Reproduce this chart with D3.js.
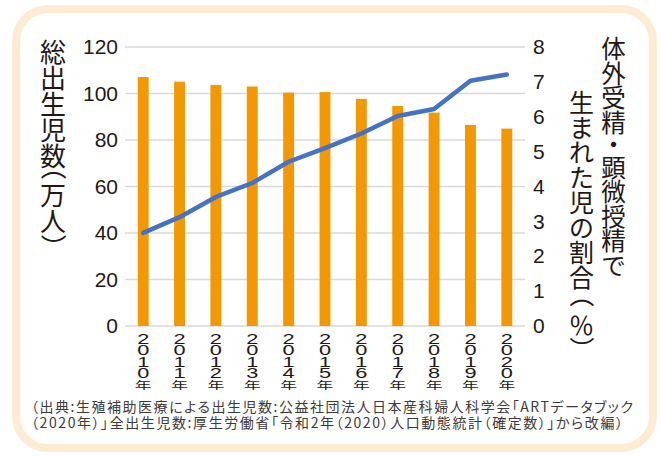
<!DOCTYPE html>
<html>
<head>
<meta charset="utf-8">
<script src="https://cdn.jsdelivr.net/npm/d3@7"></script>
<style>
	body { margin: 0; background: #fff; }
	svg { display: block; }
	text { fill: #231815; }
</style>
</head>
<body>
<div id="chart"></div>
<script>
// values
const years = ["2010", "2011", "2012", "2013", "2014", "2015", "2016", "2017", "2018", "2019", "2020"];
const births = [107.1, 105.1, 103.7, 103.0, 100.4, 100.6, 97.7, 94.6, 91.8, 86.5, 84.9]; // 万人
const artRate = [2.67, 3.12, 3.70, 4.10, 4.71, 5.10, 5.52, 6.02, 6.22, 7.03, 7.21]; // %
const leftTicks = [0, 20, 40, 60, 80, 100, 120];
const rightTicks = [0, 1, 2, 3, 4, 5, 6, 7, 8];
const leftTitle = "総出生児数（万人）";
const rightTitle1 = "体外受精・顕微授精で";
const rightTitle2 = "生まれた児の割合（％）";
const sourceLines = [
	"（出典:生殖補助医療による出生児数:公益社団法人日本産科婦人科学会「ARTデータブック",
	"（2020年）」全出生児数:厚生労働省「令和2年（2020）人口動態統計（確定数）」から改編）"
];

const W = 661, H = 456;
const jpFont = "'Noto Sans CJK JP', 'Noto Sans', sans-serif";
const numFont = "'Liberation Sans', Arial, sans-serif";

const svg = d3.select("#chart").append("svg")
	.attr("width", W)
	.attr("height", H);

// cream rounded frame
svg.append("rect")
	.attr("x", 16).attr("y", 9)
	.attr("width", 637).attr("height", 439)
	.attr("rx", 32)
	.attr("fill", "#fff")
	.attr("stroke", "#fdebd3")
	.attr("stroke-width", 8);

const x = d3.scaleBand().domain(years).range([125, 525]).paddingInner(0.7).paddingOuter(0.35);
const yL = d3.scaleLinear().domain([0, 120]).range([326, 47]);
const yR = d3.scaleLinear().domain([0, 8]).range([326, 47]);

// gridlines
svg.append("g").selectAll("line")
	.data(leftTicks)
	.join("line")
	.attr("x1", 125).attr("x2", 525)
	.attr("y1", d => yL(d)).attr("y2", d => yL(d))
	.attr("stroke", "#d9d9d9")
	.attr("stroke-width", 1.5);

// left axis
const axL = svg.append("g")
	.attr("transform", "translate(125,0)")
	.call(d3.axisLeft(yL).tickValues(leftTicks).tickSize(0).tickPadding(7));
axL.select(".domain").remove();
axL.selectAll("text")
	.style("font-family", numFont)
	.style("font-size", "21px")
	.attr("fill", "#231815");

// right axis
const axR = svg.append("g")
	.attr("transform", "translate(525,0)")
	.call(d3.axisRight(yR).tickValues(rightTicks).tickSize(0).tickPadding(8));
axR.select(".domain").remove();
axR.selectAll("text")
	.style("font-family", numFont)
	.style("font-size", "21px")
	.attr("fill", "#231815");

// bars
svg.append("g").selectAll("rect")
	.data(years.map((y, i) => ({ year: y, v: births[i] })))
	.join("rect")
	.attr("x", d => x(d.year))
	.attr("width", x.bandwidth())
	.attr("y", d => yL(d.v))
	.attr("height", d => yL(0) - yL(d.v))
	.attr("fill", "#f39800");

// line
const line = d3.line()
	.x(d => x(d.year) + x.bandwidth() / 2)
	.y(d => yR(d.v));

svg.append("path")
	.datum(years.map((y, i) => ({ year: y, v: artRate[i] })))
	.attr("d", line)
	.attr("fill", "none")
	.attr("stroke", "#4472c4")
	.attr("stroke-width", 4.5)
	.attr("stroke-linecap", "round")
	.attr("stroke-linejoin", "round");

// x labels, stacked vertically and stretched wide
const xl = svg.append("g").selectAll("g")
	.data(years)
	.join("g")
	.attr("transform", d => "translate(" + (x(d) + x.bandwidth() / 2) + ",0)");

xl.each(function(yr) {
	const g = d3.select(this);
	const chars = (yr + "年").split("");
	chars.forEach((ch, i) => {
		const cy = 339 + i * 11.3;
		const isDigit = /[0-9]/.test(ch);
		g.append("text")
			.attr("text-anchor", "middle")
			.attr("dominant-baseline", "central")
			.attr("transform", "translate(0," + cy + ") scale(" + (isDigit ? 1.5 : 1.6) + ",1)")
			.style("font-family", isDigit ? numFont : jpFont)
			.style("font-size", isDigit ? "14.5px" : "10.5px")
			.text(ch);
	});
});

// ink box of a glyph, to turn brackets about their own middle
const ctx = document.createElement("canvas").getContext("2d");
function inkCenter(ch, size) {
	ctx.font = size + "px " + jpFont;
	const m = ctx.measureText(ch);
	return {
		x: (m.actualBoundingBoxRight - m.actualBoundingBoxLeft) / 2,
		y: (m.actualBoundingBoxDescent - m.actualBoundingBoxAscent) / 2
	};
}

// vertical titles, one glyph at a time
function vText(parent, str, cx, top, size, adv) {
	let cur = top;
	for (const ch of str) {
		const a = adv[ch] !== undefined ? adv[ch] : 1;
		const cy = cur + a * size / 2;
		cur += a * size;
		if (ch === "（" || ch === "）") {
			const c = inkCenter(ch, size);
			parent.append("g")
				.attr("transform", "translate(" + cx + "," + (cy + (ch === "（" ? 2 : 0)) + ") rotate(90)")
				.append("text")
				.attr("x", -c.x)
				.attr("y", -c.y)
				.style("font-family", jpFont)
				.style("font-size", size + "px")
				.text(ch);
		} else {
			parent.append("text")
				.attr("text-anchor", "middle")
				.attr("dominant-baseline", "central")
				.attr("transform", "translate(" + cx + "," + cy + ")")
				.style("font-family", jpFont)
				.style("font-size", size + "px")
				.text(ch);
		}
	}
}

const titles = svg.append("g");
vText(titles, leftTitle, 53, 37, 26, { "（": 0.5, "）": 0.5 });
vText(titles, rightTitle1, 613.5, 35.25, 24.5, { "・": 0.85 });
vText(titles, rightTitle2, 581.5, 88.5, 25, { "（": 1, "％": 0.85, "）": 0.5 });

// source note
svg.append("g").selectAll("text")
	.data(sourceLines)
	.join("text")
	.attr("x", 31)
	.attr("y", (d, i) => 412 + i * 16)
	.attr("textLength", (d, i) => i === 0 ? 602 : 592)
	.attr("lengthAdjust", "spacing")
	.style("font-family", jpFont)
	.style("font-size", "14px")
	.style("font-feature-settings", "'palt'")
	.style("fill", "#3e3a39")
	.text(d => d);
</script>
</body>
</html>
